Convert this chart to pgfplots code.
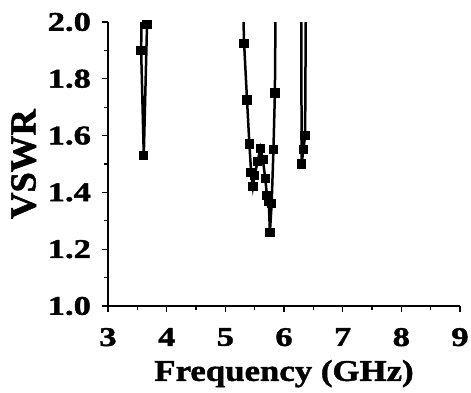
\documentclass[border=0pt]{standalone}
\usepackage{fontspec}
\setmainfont{Liberation Serif}
\newfontfamily\tickfont[FakeStretch=1.28,FakeBold=1.5]{Liberation Serif}
\newfontfamily\xlabfont[FakeStretch=1.16,FakeBold=1.5]{Liberation Serif}
\newfontfamily\ylabfont[FakeBold=1.5]{Liberation Serif}
\usepackage{graphicx}
\usepackage{pgfplots}
\pgfplotsset{compat=1.18}
\begin{document}
\begin{tikzpicture}
\useasboundingbox (-54pt,-43pt) rectangle (181.5pt,153pt);
\begin{axis}[
  scale only axis, width=176pt, height=142pt,
  at={(0,0)}, anchor=south west,
  xmin=3, xmax=9, ymin=1.0, ymax=2.0,
  axis x line*=bottom, axis y line*=left,
  axis line style={line width=0.6pt},
  tick align=outside,
  tick style={line width=0.6pt, black},
  major tick length=3pt, minor tick length=2pt,
  xtick={3,4,5,6,7,8,9},
  ytick={1.0,1.2,1.4,1.6,1.8,2.0},
  minor x tick num=1, minor y tick num=1,
  yticklabel style={/pgf/number format/fixed, /pgf/number format/fixed zerofill, /pgf/number format/precision=1, xshift=-2pt},
  xticklabel style={yshift=-4.5pt},
  /pgf/number format/assume math mode=true,
  ticklabel style={font=\tickfont\fontsize{13.5}{15}\selectfont\bfseries},
  xlabel={\xlabfont\fontsize{15}{17}\selectfont\bfseries Frequency (GHz)},
  ylabel={\ylabfont\fontsize{18.3}{20}\selectfont\bfseries VSWR},
  xlabel style={yshift=0pt},
  ylabel style={yshift=-1pt},
]
\addplot[black, line width=1.25pt, mark=square*, mark size=1.7pt] coordinates {(3.58,2.15) (3.565,1.90) (3.61,1.53) (3.665,1.99) (3.67,2.15)};
\addplot[black, line width=1.25pt, mark=square*, mark size=1.7pt] coordinates {(5.29,2.15) (5.32,1.925) (5.37,1.725) (5.41,1.57) (5.44,1.47) (5.47,1.42) (5.50,1.46) (5.55,1.51) (5.60,1.555) (5.64,1.515) (5.68,1.45) (5.71,1.39) (5.74,1.37) (5.76,1.26) (5.79,1.36) (5.82,1.55) (5.845,1.75) (5.86,2.15)};
\addplot[black, line width=1.25pt, mark=square*, mark size=1.7pt] coordinates {(6.295,2.15) (6.30,1.50) (6.33,1.55) (6.36,1.60) (6.375,2.15)};
\end{axis}
\end{tikzpicture}
\end{document}
